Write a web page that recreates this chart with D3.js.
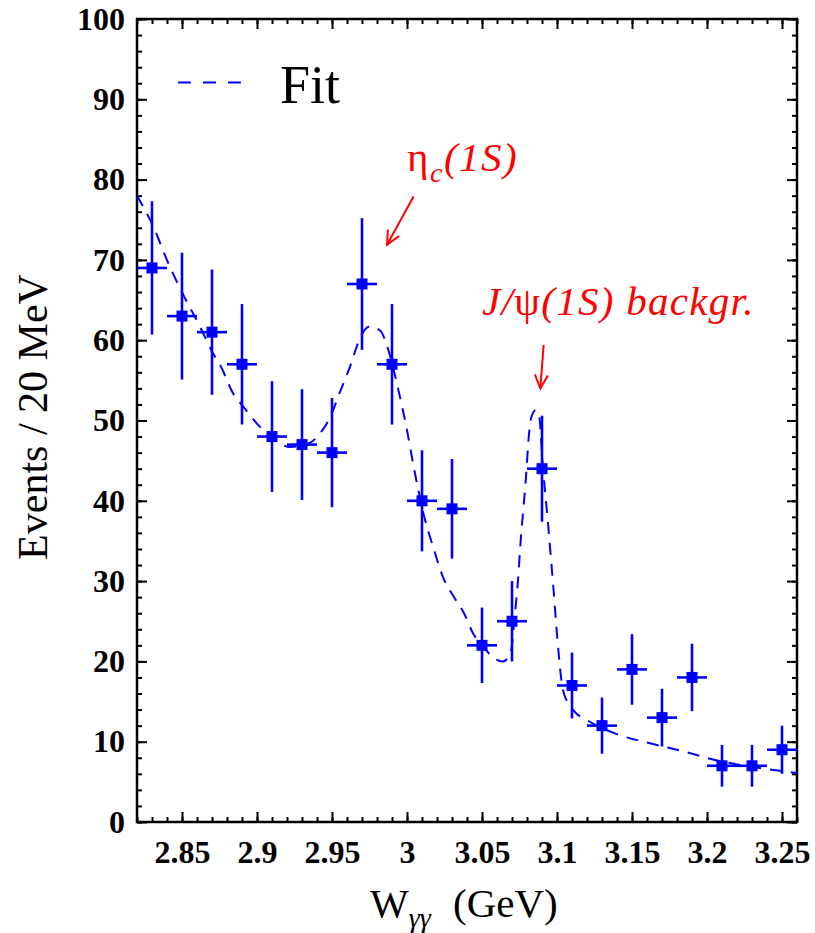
<!DOCTYPE html>
<html>
<head>
<meta charset="utf-8">
<script src="https://cdn.jsdelivr.net/npm/d3@7"></script>
<style>
  html, body { margin: 0; padding: 0; background: #fff; }
  svg { display: block; }
</style>
</head>
<body>
<svg id="chart" width="815" height="933"></svg>
<script>
// Bin centres (GeV), counts per 20 MeV bin and their statistical errors
const binCenters = [2.83, 2.85, 2.87, 2.89, 2.91, 2.93, 2.95, 2.97, 2.99, 3.01, 3.03,
                    3.05, 3.07, 3.09, 3.11, 3.13, 3.15, 3.17, 3.19, 3.21, 3.23, 3.25];
const counts     = [69, 63, 61, 57, 48, 47, 46, 67, 57, 40, 39,
                    22, 25, 44, 17, 12, 19, 13, 18, 7, 7, 9];
const countErrs  = [8.3, 7.9, 7.8, 7.5, 6.9, 6.9, 6.8, 8.2, 7.5, 6.3, 6.2,
                    4.7, 5.0, 6.6, 4.1, 3.5, 4.4, 3.6, 4.2, 2.6, 2.6, 3.0];
const binWidth = 0.02;

// Fit curve samples
const fitW = [2.820, 2.830, 2.842, 2.851, 2.862, 2.870, 2.876, 2.884, 2.891, 2.902,
              2.913, 2.922, 2.935, 2.942, 2.949, 2.955, 2.962, 2.969, 2.975, 2.982,
              2.988, 2.994, 3.000, 3.004, 3.011, 3.018, 3.024, 3.031, 3.038, 3.044,
              3.051, 3.058, 3.064, 3.069, 3.072, 3.074, 3.0755, 3.0777, 3.0795, 3.081,
              3.083, 3.086, 3.088, 3.0906, 3.094, 3.0977, 3.101, 3.104, 3.111, 3.120,
              3.139, 3.162, 3.184, 3.206, 3.229, 3.260];
const fitN = [78.0, 74.5, 69.1, 65.6, 61.7, 58.6, 56.7, 53.4, 51.7, 49.2,
              47.4, 46.7, 47.2, 48.4, 50.5, 53.4, 56.7, 60.4, 61.7, 61.2,
              58.5, 54.0, 48.8, 44.7, 38.4, 33.9, 30.5, 28.1, 26.0, 23.5,
              21.8, 20.4, 20.0, 21.0, 26.0, 30.1, 34.3, 39.3, 43.4, 47.6,
              50.5, 51.3, 50.7, 44.2, 37.2, 28.9, 21.2, 16.4, 13.9, 12.7,
              11.0, 9.8, 8.8, 7.7, 6.9, 6.1];

// Axis ticks
const xMajorTicks = [2.85, 2.9, 2.95, 3.0, 3.05, 3.1, 3.15, 3.2, 3.25];
const xTickLabels = ["2.85", "2.9", "2.95", "3", "3.05", "3.1", "3.15", "3.2", "3.25"];
const xMinorTicks = d3.range(2.82, 3.2601, 0.01).map(v => +v.toFixed(2));
const yMajorTicks = [0, 10, 20, 30, 40, 50, 60, 70, 80, 90, 100];
const yMinorTicks = d3.range(0, 101, 2);

const svg = d3.select("#chart");
const margin = {left: 137, top: 19, right: 18, bottom: 111};
const W = 815 - margin.left - margin.right;
const H = 933 - margin.top - margin.bottom;

const x = d3.scaleLinear().domain([2.82, 3.26]).range([0, W]);
const y = d3.scaleLinear().domain([0, 100]).range([H, 0]);

const g = svg.append("g").attr("transform", `translate(${margin.left},${margin.top})`);

const serif = "'Liberation Serif', 'Times New Roman', serif";
const blue = "#0000ff";
const red = "#ff0000";

// ---- axes: inward ticks on all four sides ----
function styleAxis(sel) {
  sel.select(".domain").remove();
  sel.selectAll(".tick line").attr("stroke", "#000").attr("stroke-width", 2);
  sel.selectAll("text").attr("font-family", serif).attr("font-weight", "bold")
     .attr("font-size", 32).attr("fill", "#000");
}
const majorLen = 10, minorLen = 5;

g.append("g").attr("transform", `translate(0,${H})`)
  .call(d3.axisBottom(x).tickValues(xMinorTicks).tickSize(-minorLen).tickFormat(""))
  .call(styleAxis);
g.append("g").attr("transform", `translate(0,${H})`)
  .call(d3.axisBottom(x).tickValues(xMajorTicks).tickSize(-majorLen).tickPadding(18)
        .tickFormat((d, i) => xTickLabels[i]))
  .call(styleAxis);
g.append("g")
  .call(d3.axisTop(x).tickValues(xMinorTicks).tickSize(-minorLen).tickFormat(""))
  .call(styleAxis);
g.append("g")
  .call(d3.axisTop(x).tickValues(xMajorTicks).tickSize(-majorLen).tickFormat(""))
  .call(styleAxis);

g.append("g")
  .call(d3.axisLeft(y).tickValues(yMinorTicks).tickSize(-minorLen).tickFormat(""))
  .call(styleAxis);
g.append("g")
  .call(d3.axisLeft(y).tickValues(yMajorTicks).tickSize(-majorLen).tickPadding(12)
        .tickFormat(d3.format("d")))
  .call(styleAxis);
g.append("g").attr("transform", `translate(${W},0)`)
  .call(d3.axisRight(y).tickValues(yMinorTicks).tickSize(-minorLen).tickFormat(""))
  .call(styleAxis);
g.append("g").attr("transform", `translate(${W},0)`)
  .call(d3.axisRight(y).tickValues(yMajorTicks).tickSize(-majorLen).tickFormat(""))
  .call(styleAxis);

// frame
g.append("rect").attr("x", 0).attr("y", 0).attr("width", W).attr("height", H)
  .attr("fill", "none").attr("stroke", "#000").attr("stroke-width", 2.5);

// ---- fit curve ----
const fitData = fitW.map((w, i) => [w, fitN[i]]);
const line = d3.line().x(d => x(d[0])).y(d => y(d[1])).curve(d3.curveMonotoneX);
g.append("path").datum(fitData).attr("d", line)
  .attr("fill", "none").attr("stroke", blue).attr("stroke-width", 2)
  .attr("stroke-dasharray", "12,9");

// ---- data points with error bars ----
const pts = binCenters.map((c, i) => ({w: c, n: counts[i], e: countErrs[i]}));
const pg = g.append("g").attr("stroke", blue).attr("stroke-width", 2.6);
pg.selectAll(".ey").data(pts).join("line")
  .attr("x1", d => x(d.w)).attr("x2", d => x(d.w))
  .attr("y1", d => y(d.n - d.e)).attr("y2", d => y(d.n + d.e));
pg.selectAll(".ex").data(pts).join("line")
  .attr("x1", d => x(d.w - binWidth / 2)).attr("x2", d => x(d.w + binWidth / 2))
  .attr("y1", d => y(d.n)).attr("y2", d => y(d.n));
const ms = 11;
g.append("g").selectAll("rect").data(pts).join("rect")
  .attr("x", d => x(d.w) - ms / 2).attr("y", d => y(d.n) - ms / 2)
  .attr("width", ms).attr("height", ms).attr("fill", blue);

// ---- legend ----
g.append("line")
  .attr("x1", x(2.8473)).attr("x2", x(2.8900))
  .attr("y1", y(92.1)).attr("y2", y(92.1))
  .attr("stroke", blue).attr("stroke-width", 2).attr("stroke-dasharray", "13,12");
g.append("text").attr("x", x(2.9153)).attr("y", y(89.6))
  .attr("font-family", serif).attr("font-size", 54).attr("fill", "#000").text("Fit");

// ---- annotations ----
function arrow(x1, y1, x2, y2) {
  const ax = x(x1), ay = y(y1), bx = x(x2), by = y(y2);
  const ang = Math.atan2(by - ay, bx - ax);
  const hl = 15, ha = Math.PI / 7;
  const ag = g.append("g").attr("stroke", red).attr("stroke-width", 2).attr("fill", "none");
  ag.append("line").attr("x1", ax).attr("y1", ay).attr("x2", bx).attr("y2", by);
  ag.append("path").attr("d",
    `M${bx - hl * Math.cos(ang - ha)},${by - hl * Math.sin(ang - ha)}` +
    `L${bx},${by}` +
    `L${bx - hl * Math.cos(ang + ha)},${by - hl * Math.sin(ang + ha)}`);
}

const eta = g.append("text").attr("x", x(3.0)).attr("y", y(81.1))
  .attr("font-family", serif).attr("font-size", 41).attr("letter-spacing", 1.5)
  .attr("fill", red);
eta.append("tspan").text("η");
eta.append("tspan").attr("font-style", "italic").attr("font-size", 28).attr("dy", 11).text("c");
eta.append("tspan").attr("font-style", "italic").attr("dy", -11).text("(1S)");
arrow(3.0044, 77.9, 2.9867, 71.9);

const jpsi = g.append("text").attr("x", x(3.05)).attr("y", y(63.1))
  .attr("font-family", serif).attr("font-size", 41).attr("letter-spacing", 1.3)
  .attr("fill", red);
jpsi.append("tspan").attr("font-style", "italic").text("J/");
jpsi.append("tspan").text("ψ");
jpsi.append("tspan").attr("font-style", "italic").text("(1S) backgr.");
arrow(3.0911, 59.4, 3.0889, 54.0);

// ---- axis titles ----
const xt = svg.append("text").attr("x", 370).attr("y", 917)
  .attr("font-family", serif).attr("font-size", 41).attr("fill", "#000");
xt.append("tspan").text("W");
xt.append("tspan").attr("font-size", 28).attr("font-style", "italic").attr("dy", 10).text("γγ");
xt.append("tspan").attr("dy", -10).attr("x", 453).text("(GeV)");

svg.append("text")
  .attr("transform", "translate(47,417) rotate(-90)")
  .attr("text-anchor", "middle")
  .attr("font-family", serif).attr("font-size", 42).attr("fill", "#000")
  .text("Events / 20 MeV");
</script>
</body>
</html>
